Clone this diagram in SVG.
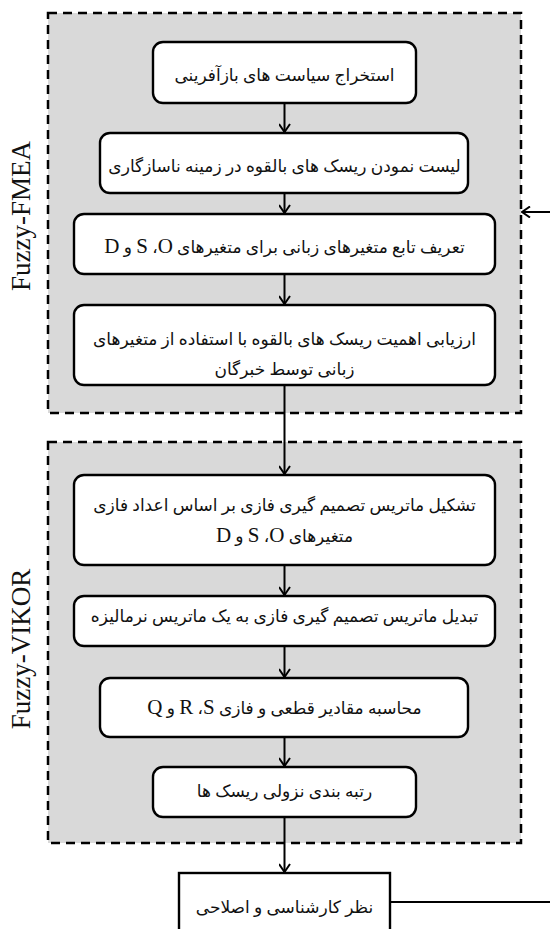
<svg xmlns="http://www.w3.org/2000/svg" width="550" height="929" viewBox="0 0 550 929">
<style>
.panel{fill:#d9d9d9;stroke:#000;stroke-width:2.5;stroke-dasharray:9 6}
.box{fill:#fff;stroke:#000;stroke-width:2.4}
.t{font-family:'Liberation Serif','DejaVu Sans',serif;font-size:17px;fill:#111;text-anchor:middle;direction:rtl}
.L{font-size:21px}
.lab{font-family:'Liberation Serif',serif;font-size:27px;fill:#111;text-anchor:middle}
.c{fill:none;stroke:#000;stroke-width:2}
</style>
<defs>
<marker id="ah" viewBox="0 0 12 12" refX="11" refY="6" markerWidth="12" markerHeight="12" markerUnits="userSpaceOnUse" orient="auto">
<path d="M3,0.5 L11,6 L3,11.5" fill="none" stroke="#000" stroke-width="2"/>
</marker>
</defs>
<g id="panel-fmea">
<rect class="panel" x="48" y="13" width="473" height="400"/>
<text class="lab" transform="translate(30,216) rotate(-90)">Fuzzy-FMEA</text>
</g>
<g id="panel-vikor">
<rect class="panel" x="48" y="442" width="473" height="401"/>
<text class="lab" transform="translate(30,649) rotate(-90)">Fuzzy-VIKOR</text>
</g>
<g id="connectors">
<path class="c" d="M284.5,103 V132" marker-end="url(#ah)"/>
<path class="c" d="M284.5,193 V213" marker-end="url(#ah)"/>
<path class="c" d="M284.5,274 V304" marker-end="url(#ah)"/>
<path class="c" d="M284.5,385 V474" marker-end="url(#ah)"/>
<path class="c" d="M284.5,565 V595" marker-end="url(#ah)"/>
<path class="c" d="M284.5,646 V677" marker-end="url(#ah)"/>
<path class="c" d="M284.5,737 V766" marker-end="url(#ah)"/>
<path class="c" d="M284.5,817 V872" marker-end="url(#ah)"/>
<path class="c" d="M390,902 H550"/>
<path class="c" d="M550,212 H522" marker-end="url(#ah)"/>
</g>
<g id="n1">
<rect class="box" x="153" y="42" width="263" height="61" rx="10"/>
<text class="t" x="284.5" y="81">استخراج سیاست های بازآفرینی</text>
</g>
<g id="n2">
<rect class="box" x="100" y="133" width="368" height="60" rx="10"/>
<text class="t" x="284.5" y="172">لیست نمودن ریسک های بالقوه در زمینه ناسازگاری</text>
</g>
<g id="n3">
<rect class="box" x="74" y="214" width="421" height="60" rx="10"/>
<text class="t" x="284.5" y="253">تعریف تابع متغیرهای زبانی برای متغیرهای <tspan class="L">O</tspan>،&#x200F; <tspan class="L">S</tspan> و <tspan class="L">D</tspan></text>
</g>
<g id="n4">
<rect class="box" x="74" y="305" width="421" height="80" rx="10"/>
<text class="t" x="284.5" y="345">ارزیابی اهمیت ریسک های بالقوه با استفاده از متغیرهای</text>
<text class="t" x="284.5" y="375">زبانی توسط خبرگان</text>
</g>
<g id="n5">
<rect class="box" x="74" y="475" width="421" height="90" rx="10"/>
<text class="t" x="284.5" y="511">تشکیل ماتریس تصمیم گیری فازی بر اساس اعداد فازی</text>
<text class="t" x="284.5" y="542">متغیرهای <tspan class="L">O</tspan>،&#x200F; <tspan class="L">S</tspan> و <tspan class="L">D</tspan></text>
</g>
<g id="n6">
<rect class="box" x="74" y="596" width="421" height="50" rx="10"/>
<text class="t" x="284.5" y="622">تبدیل ماتریس تصمیم گیری فازی به یک ماتریس نرمالیزه</text>
</g>
<g id="n7">
<rect class="box" x="100" y="678" width="368" height="59" rx="10"/>
<text class="t" x="284.5" y="714">محاسبه مقادیر قطعی و فازی <tspan class="L">S</tspan>،&#x200F; <tspan class="L">R</tspan> و <tspan class="L">Q</tspan></text>
</g>
<g id="n8">
<rect class="box" x="153" y="767" width="263" height="50" rx="10"/>
<text class="t" x="284.5" y="797">رتبه بندی نزولی ریسک ها</text>
</g>
<g id="n9">
<rect class="box" x="179" y="873" width="211" height="62"/>
<text class="t" x="284.5" y="913">نظر کارشناسی و اصلاحی</text>
</g>
</svg>
